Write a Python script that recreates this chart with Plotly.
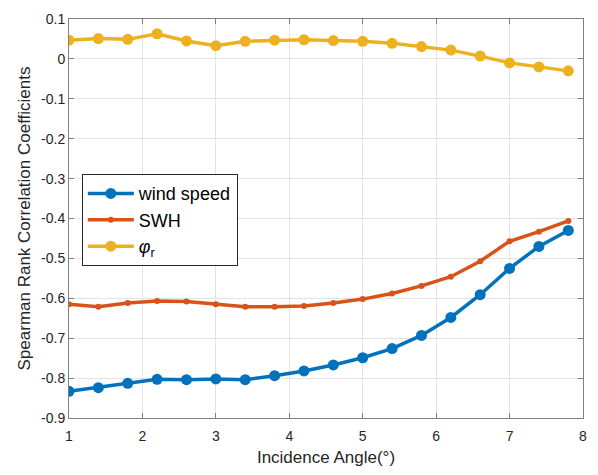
import plotly.graph_objects as go

# Incidence angles (degrees)
angle = [1.0, 1.4, 1.8, 2.2, 2.6, 3.0, 3.4, 3.8, 4.2, 4.6,
         5.0, 5.4, 5.8, 6.2, 6.6, 7.0, 7.4, 7.8]

# Spearman rank correlation coefficients per variable
wind_speed = [-0.833, -0.824, -0.813, -0.803, -0.804, -0.802, -0.804, -0.794, -0.782,
              -0.767, -0.749, -0.726, -0.693, -0.648, -0.591, -0.525, -0.470, -0.430]
swh = [-0.615, -0.621, -0.612, -0.607, -0.608, -0.615, -0.621, -0.621, -0.619,
       -0.612, -0.602, -0.588, -0.569, -0.546, -0.507, -0.457, -0.433, -0.406]
phi_r = [0.047, 0.051, 0.049, 0.063, 0.045, 0.033, 0.044, 0.047, 0.048,
         0.046, 0.044, 0.039, 0.031, 0.022, 0.007, -0.010, -0.020, -0.030]

x_ticks = [1, 2, 3, 4, 5, 6, 7, 8]
y_ticks = [0.1, 0, -0.1, -0.2, -0.3, -0.4, -0.5, -0.6, -0.7, -0.8, -0.9]

BLUE = "#0072BD"
ORANGE = "#D95319"
YELLOW = "#EDB120"

fig = go.Figure()
fig.add_trace(go.Scatter(x=angle, y=wind_speed, mode="lines+markers", name="wind speed",
                         legendgroup="ws",
                         line=dict(color=BLUE, width=3.5),
                         marker=dict(color=BLUE, size=11, symbol="circle")))
fig.add_trace(go.Scatter(x=angle, y=swh, mode="lines+markers", name="SWH",
                         legendgroup="swh",
                         line=dict(color=ORANGE, width=3.5),
                         marker=dict(color=ORANGE, size=6, symbol="circle")))
fig.add_trace(go.Scatter(x=angle, y=phi_r, mode="lines+markers", name="<i>φ</i><sub>r</sub>",
                         legendgroup="phi",
                         line=dict(color=YELLOW, width=3.5),
                         marker=dict(color=YELLOW, size=11, symbol="circle")))

axis_common = dict(
    showline=True, linecolor="#808080", linewidth=1, mirror="ticks",
    ticks="inside", ticklen=5, tickcolor="#808080",
    showgrid=True, gridcolor="#e3e3e3", gridwidth=1,
    zeroline=False,
    tickfont=dict(family="Liberation Sans, Arial", size=14, color="#262626"),
)

fig.update_layout(
    width=598, height=475,
    margin=dict(l=69, r=11, t=13, b=56),
    paper_bgcolor="white", plot_bgcolor="white",
    font=dict(family="Liberation Sans, Arial", color="#262626"),
    xaxis=dict(range=[1, 8], tickvals=x_ticks, ticklabelstandoff=5,
               title=dict(text="Incidence Angle(°)", font=dict(size=17), standoff=8),
               **axis_common),
    yaxis=dict(range=[-0.9, 0.1], tickvals=y_ticks,
               ticktext=[("%g" % v) for v in y_ticks],
               title=dict(text="Spearman Rank Correlation Coefficients", font=dict(size=17), standoff=6),
               **axis_common),
    legend=dict(x=0.025, y=0.611, xanchor="left", yanchor="top",
                bgcolor="white", bordercolor="#262626", borderwidth=1,
                font=dict(size=18, color="#000000"),
                tracegroupgap=0, itemwidth=46),
    showlegend=True,
)

fig.write_html("out.html")
